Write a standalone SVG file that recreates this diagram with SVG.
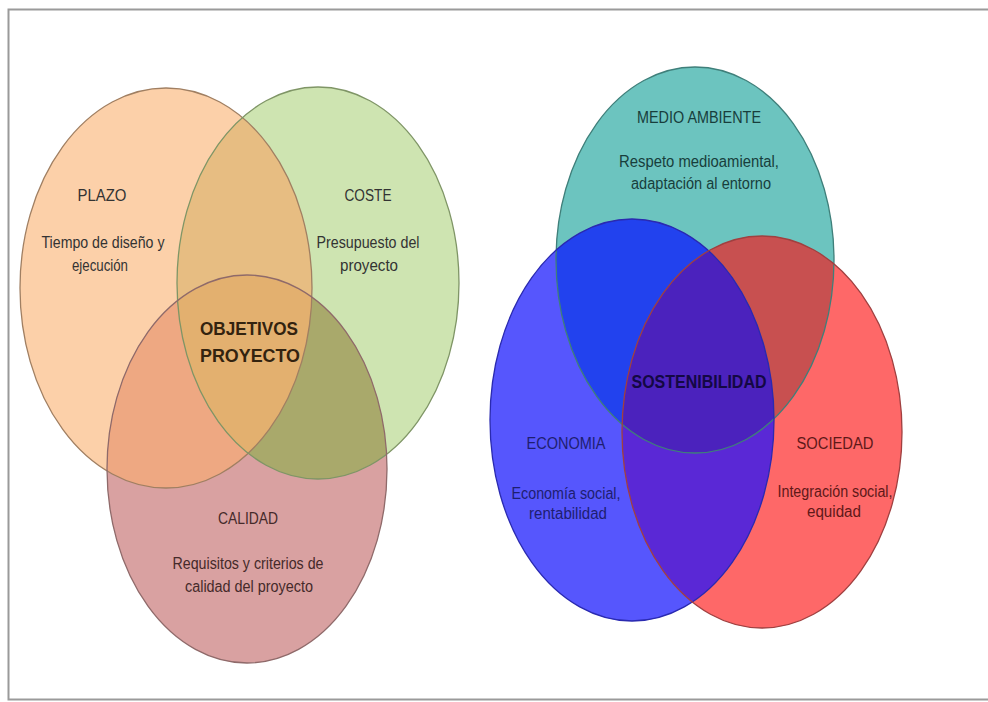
<svg xmlns="http://www.w3.org/2000/svg" width="988" height="702" viewBox="0 0 988 702">
<style>
.t{font-family:"Liberation Sans",Arial,sans-serif;font-size:16px;text-anchor:middle}
.b{font-family:"Liberation Sans",Arial,sans-serif;font-size:19px;font-weight:bold;text-anchor:middle}
.ol{fill:none;stroke-width:1.3}
</style>
<defs>
<ellipse id="ePlazo" cx="166" cy="288" rx="146" ry="200"/>
<ellipse id="eCoste" cx="318" cy="283" rx="141" ry="196"/>
<ellipse id="eCalidad" cx="247" cy="469" rx="140" ry="194"/>
<ellipse id="eMedio" cx="695" cy="260" rx="139" ry="193"/>
<ellipse id="eEco" cx="632" cy="420" rx="142" ry="201"/>
<ellipse id="eSoc" cx="762" cy="432" rx="140" ry="196"/>
<clipPath id="cPlazo"><use href="#ePlazo"/></clipPath>
<clipPath id="cCoste"><use href="#eCoste"/></clipPath>
<clipPath id="cMedio"><use href="#eMedio"/></clipPath>
<clipPath id="cEco"><use href="#eEco"/></clipPath>
</defs>
<rect x="0" y="0" width="988" height="702" fill="#ffffff"/>
<rect x="8.5" y="9.5" width="990" height="690" fill="none" stroke="#9a9a9a" stroke-width="2"/>

<g id="plazo"><use href="#ePlazo" fill="#fcd0a9"/></g>
<g id="coste"><use href="#eCoste" fill="#cee4b1"/></g>
<g id="calidad"><use href="#eCalidad" fill="#d9a1a1"/></g>
<g id="overlaps-left">
<use href="#eCoste" fill="#e7bd82" clip-path="url(#cPlazo)"/>
<use href="#eCalidad" fill="#eea882" clip-path="url(#cPlazo)"/>
<use href="#eCalidad" fill="#a9a96b" clip-path="url(#cCoste)"/>
<g clip-path="url(#cPlazo)"><use href="#eCalidad" fill="#e3b06f" clip-path="url(#cCoste)"/></g>
</g>
<g id="outlines-left" class="ol">
<use href="#ePlazo" stroke="#a07f62"/>
<use href="#eCoste" stroke="#7f9566"/>
<use href="#eCalidad" stroke="#8f6a6a"/>
</g>

<g id="medio"><use href="#eMedio" fill="#6cc4bf"/></g>
<g id="economia"><use href="#eEco" fill="#5656fd"/></g>
<g id="sociedad"><use href="#eSoc" fill="#fe6868"/></g>
<g id="overlaps-right">
<use href="#eEco" fill="#2242ee" clip-path="url(#cMedio)"/>
<use href="#eSoc" fill="#c85050" clip-path="url(#cMedio)"/>
<use href="#eSoc" fill="#5a28d6" clip-path="url(#cEco)"/>
<g clip-path="url(#cMedio)"><use href="#eSoc" fill="#4b22bd" clip-path="url(#cEco)"/></g>
</g>
<g id="outlines-right" class="ol">
<use href="#eMedio" stroke="#3f7f7a"/>
<use href="#eEco" stroke="#2a2ab0"/>
<use href="#eSoc" stroke="#a04040"/>
</g>

<g id="labels-left" fill="#333333">
<text class="t" x="102" y="201" textLength="49" lengthAdjust="spacingAndGlyphs">PLAZO</text>
<text class="t" x="103" y="248" textLength="123" lengthAdjust="spacingAndGlyphs">Tiempo de diseño y</text>
<text class="t" x="100" y="271" textLength="56" lengthAdjust="spacingAndGlyphs">ejecución</text>
<text class="t" x="368" y="201" textLength="47" lengthAdjust="spacingAndGlyphs">COSTE</text>
<text class="t" x="368" y="248" textLength="103" lengthAdjust="spacingAndGlyphs">Presupuesto del</text>
<text class="t" x="369" y="271" textLength="58" lengthAdjust="spacingAndGlyphs">proyecto</text>
<text class="b" x="249" y="335" fill="#33230f" textLength="98" lengthAdjust="spacingAndGlyphs">OBJETIVOS</text>
<text class="b" x="250" y="362" fill="#33230f" textLength="100" lengthAdjust="spacingAndGlyphs">PROYECTO</text>
<text class="t" x="248" y="524" fill="#452a2a" textLength="60" lengthAdjust="spacingAndGlyphs">CALIDAD</text>
<text class="t" x="248" y="569" fill="#452a2a" textLength="151" lengthAdjust="spacingAndGlyphs">Requisitos y criterios de</text>
<text class="t" x="249" y="592" fill="#452a2a" textLength="128" lengthAdjust="spacingAndGlyphs">calidad del proyecto</text>
</g>
<g id="labels-right">
<text class="t" x="699" y="123" fill="#183e3c" textLength="124" lengthAdjust="spacingAndGlyphs">MEDIO AMBIENTE</text>
<text class="t" x="699" y="167" fill="#183e3c" textLength="160" lengthAdjust="spacingAndGlyphs">Respeto medioamiental,</text>
<text class="t" x="701" y="189" fill="#183e3c" textLength="140" lengthAdjust="spacingAndGlyphs">adaptación al entorno</text>
<text class="b" x="699" y="388" fill="#140844" textLength="135" lengthAdjust="spacingAndGlyphs">SOSTENIBILIDAD</text>
<text class="t" x="566" y="449" fill="#1e1e70" textLength="79" lengthAdjust="spacingAndGlyphs">ECONOMIA</text>
<text class="t" x="566" y="499" fill="#1e1e70" textLength="109" lengthAdjust="spacingAndGlyphs">Economía social,</text>
<text class="t" x="568" y="519" fill="#1e1e70" textLength="78" lengthAdjust="spacingAndGlyphs">rentabilidad</text>
<text class="t" x="835" y="449" fill="#601818" textLength="77" lengthAdjust="spacingAndGlyphs">SOCIEDAD</text>
<text class="t" x="835" y="497" fill="#601818" textLength="115" lengthAdjust="spacingAndGlyphs">Integración social,</text>
<text class="t" x="834" y="517" fill="#601818" textLength="54" lengthAdjust="spacingAndGlyphs">equidad</text>
</g>
</svg>
